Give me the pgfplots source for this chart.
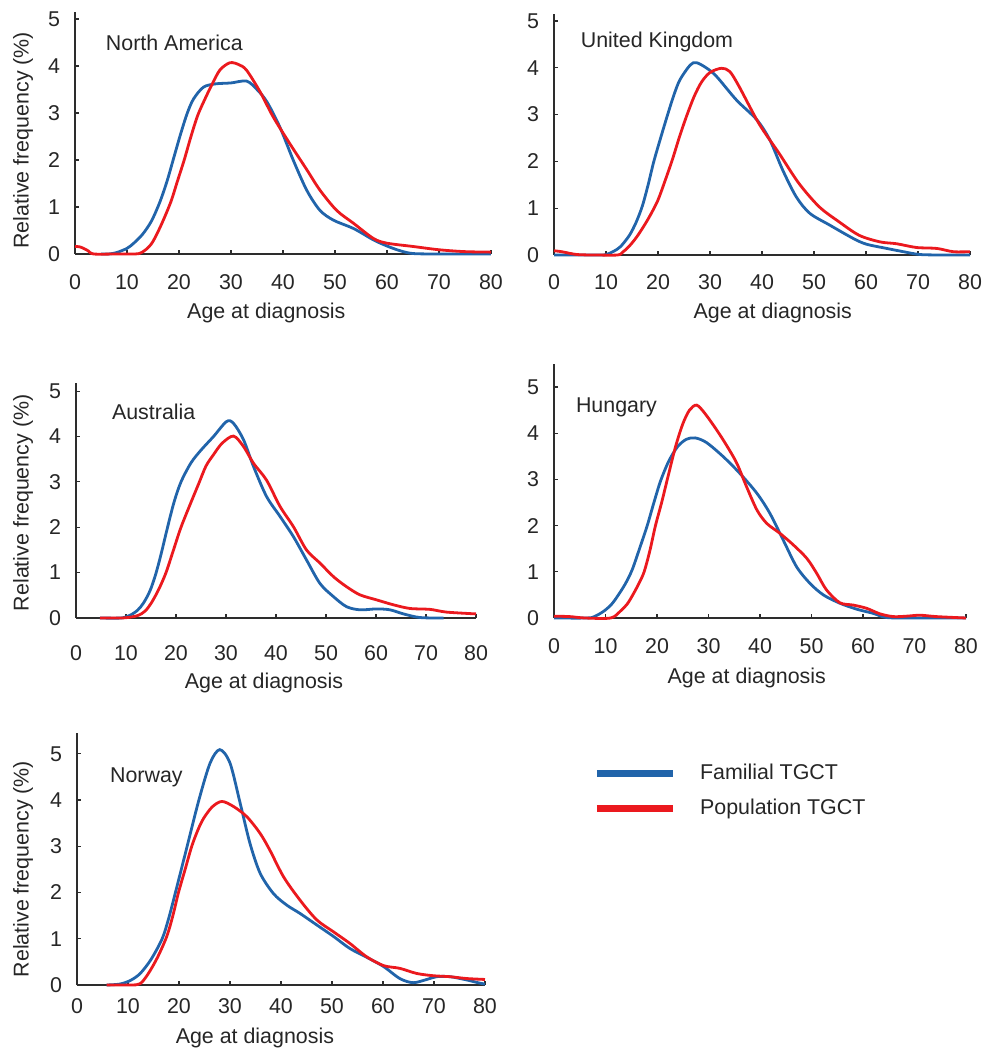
\documentclass[border=0pt]{standalone}
\usepackage{fontspec}
\setmainfont{Liberation Sans}
\usepackage{pgfplots}
\pgfplotsset{compat=1.18}

\definecolor{famblue}{RGB}{33,100,170}
\definecolor{popred}{RGB}{235,25,30}
\definecolor{axgray}{RGB}{45,45,45}

\newcommand{\figfont}{\fontsize{10.7}{13}\selectfont}
\tikzset{ttl/.style={anchor=west, font=\figfont, text=black!85}}

\pgfplotsset{
  panel/.style={
    scale only axis,
    axis lines=left,
    axis line style={-, axgray, line width=0.9pt},
    xmin=0, xmax=80, ymin=0,
    xtick={0,10,...,80}, ytick={0,1,...,5},
    tick align=inside,
    major tick length=2pt,
    tick style={axgray, line width=0.6pt},
    tick label style={font=\figfont, text=black!85},
    label style={font=\figfont, text=black!85},
    /pgf/number format/assume math mode=true,
    yticklabel shift=4pt,
    xlabel={Age at diagnosis},
    clip=false,
  },
  fam/.style={famblue, line width=1.4pt, smooth, no markers},
  pop/.style={popred, line width=1.4pt, smooth, no markers},
}

\begin{document}
\begin{tikzpicture}
\path[use as bounding box] (0,0) rectangle (491.5pt,524.5pt);

% North America
\begin{axis}[panel, at={(37.5pt,397.5pt)}, anchor=south west,
  width=208pt, height=121pt, ymax=5.15,
  xticklabel shift=7pt,
  ylabel={Relative frequency (\%)},
  ylabel style={at={(axis description cs:0,0.47)}, anchor=center, yshift=26pt},
  xlabel style={at={(axis description cs:0.46,0)}, anchor=center, yshift=-29.5pt}]
\addplot[fam] coordinates {
 (5,0) (6.5,0) (8,0.03) (10,0.12) (11.3,0.23) (13,0.42) (14.7,0.7) (16.3,1.1)
 (17.7,1.55) (19,2.05) (20.3,2.55) (21.6,3.0) (22.8,3.3) (24.7,3.55) (27,3.62)
 (30,3.64) (33,3.68) (35,3.5) (36.9,3.24) (39.4,2.7) (42,1.99) (44.6,1.35)
 (47.1,0.93) (49.7,0.72) (53.6,0.54) (57.4,0.3) (60,0.17) (62.5,0.07) (65,0.01)
 (70,0) (80,0)};
\addplot[pop] coordinates {
 (0,0.16) (1,0.15) (2.5,0.07) (3.6,0) (8,0) (11.5,0) (12.6,0.02) (13.7,0.1)
 (14.9,0.25) (16.5,0.6) (18.4,1.1) (19.7,1.55) (21,2.0) (22.3,2.5) (23.6,2.95)
 (25,3.3) (26.4,3.62) (27.9,3.92) (29.8,4.07) (31.5,4.03) (33,3.91) (35.6,3.45)
 (38.1,2.92) (41.3,2.35) (44.6,1.79) (47.1,1.36) (50.3,0.93) (53.6,0.65)
 (57.4,0.33) (60,0.23) (65,0.16) (70,0.09) (75,0.05) (80,0.04)};
\node[ttl] at (axis cs:4.6,4.5) {North America};
\end{axis}

% United Kingdom
\begin{axis}[panel, at={(277pt,397pt)}, anchor=south west,
  width=208pt, height=120.5pt, ymax=5.15,
  xticklabel shift=6.5pt,
  xlabel style={at={(axis description cs:0.526,0)}, anchor=center, yshift=-29pt}]
\addplot[fam] coordinates {
 (0,0) (9,0) (10.3,0.02) (11.5,0.08) (12.8,0.18) (14.5,0.42) (15.8,0.7) (17,1.05)
 (18.1,1.5) (19.2,2.0) (20.5,2.5) (21.8,2.98) (23,3.4) (24.2,3.74) (26.2,4.06)
 (27.4,4.11) (29.4,3.99) (31.3,3.81) (35.1,3.31) (39,2.89) (41.5,2.46) (44,1.81)
 (46.6,1.24) (49.2,0.89) (53,0.64) (57.6,0.35) (60.1,0.23) (64,0.14) (67.2,0.07)
 (70.4,0.01) (75,0) (80,0)};
\addplot[pop] coordinates {
 (0,0.09) (1.5,0.07) (4.4,0.01) (8,0) (12.2,0) (13.2,0.06) (14.4,0.18) (16,0.4)
 (18,0.75) (19.9,1.15) (21.4,1.6) (22.8,2.05) (24.2,2.55) (25.6,3.0) (27,3.4)
 (28.4,3.7) (30,3.9) (32.2,3.99) (33.8,3.92) (35.6,3.6) (39.4,2.81) (43.3,2.17)
 (47.1,1.53) (51,1.03) (54.8,0.71) (58.7,0.42) (62.7,0.28) (65.9,0.24)
 (69.7,0.16) (73.6,0.14) (76.8,0.07) (80,0.07)};
\node[ttl] at (axis cs:3.8,4.55) {United Kingdom};
\end{axis}

% Australia
\begin{axis}[panel, at={(38pt,215.5pt)}, anchor=south west,
  width=200pt, height=117.5pt, ymax=5.18,
  xticklabel shift=10pt,
  ylabel={Relative frequency (\%)},
  ylabel style={at={(axis description cs:0,0.49)}, anchor=center, yshift=26.5pt},
  xlabel style={at={(axis description cs:0.47,0)}, anchor=center, yshift=-32.5pt}]
\addplot[fam] coordinates {
 (4.8,0) (9,0) (10.8,0.06) (12.3,0.17) (13.5,0.33) (14.8,0.6) (15.9,0.95)
 (17,1.4) (18.2,1.95) (19.6,2.55) (21,3.0) (23,3.42) (25,3.7) (27.5,4.0)
 (30.1,4.33) (31.5,4.29) (33.5,3.93) (35.5,3.34) (38.1,2.68) (40.8,2.24)
 (43.5,1.79) (46.1,1.28) (48.8,0.76) (51.5,0.47) (54.1,0.25) (56.8,0.18)
 (60.1,0.2) (62.8,0.18) (65.5,0.09) (68.8,0.01) (73.5,0)};
\addplot[pop] coordinates {
 (4.8,0) (9,0) (11,0.02) (12.5,0.06) (13.8,0.15) (15,0.32) (16.5,0.62) (18,1.0)
 (19.5,1.5) (21,2.0) (23,2.55) (24.5,2.95) (26,3.35) (27.5,3.6) (29.2,3.85)
 (31.5,4.01) (33.5,3.78) (35.5,3.41) (38.1,3.04) (40.8,2.46) (43.5,2.01)
 (46.1,1.5) (48.8,1.21) (51.5,0.91) (54.1,0.69) (56.8,0.51) (60.1,0.4)
 (63.5,0.29) (66.8,0.21) (70.8,0.19) (74.1,0.13) (80,0.09)};
\node[ttl] at (axis cs:5.8,4.54) {Australia};
\end{axis}

% Hungary
\begin{axis}[panel, at={(277pt,215.5pt)}, anchor=south west,
  width=206pt, height=127pt, ymax=5.5,
  xticklabel shift=6.5pt,
  xlabel style={at={(axis description cs:0.468,0)}, anchor=center, yshift=-30pt}]
\addplot[fam] coordinates {
 (0,0) (6.5,0) (8,0.04) (9.7,0.15) (11.2,0.3) (12.5,0.5) (13.9,0.75) (15.2,1.05)
 (16.6,1.5) (18.1,2.0) (19.4,2.5) (20.7,2.97) (22.3,3.4) (24,3.71) (25.7,3.87)
 (27.4,3.9) (29.6,3.8) (32.9,3.49) (36.1,3.13) (39.4,2.7) (41.9,2.27)
 (44.5,1.69) (47.1,1.11) (49.7,0.75) (52.3,0.5) (55.5,0.32) (58.8,0.19)
 (62,0.1) (64.6,0.01) (70,0) (80,0)};
\addplot[pop] coordinates {
 (0,0.04) (3.1,0.03) (6,0) (11,0) (12.9,0.15) (14.2,0.3) (15.3,0.5) (16.5,0.75)
 (17.5,1.0) (18.6,1.45) (19.7,2.0) (20.9,2.5) (22,3.0) (23.6,3.71) (25,4.2)
 (26.3,4.5) (27.7,4.61) (29.3,4.43) (31.6,4.07) (33.5,3.74) (35.5,3.35)
 (37.4,2.84) (39.4,2.34) (41.3,2.05) (43.9,1.83) (46.5,1.58) (49.1,1.29)
 (51,0.97) (52.9,0.61) (55.5,0.33) (58.1,0.28) (60.7,0.21) (63.3,0.09)
 (65.9,0.03) (68.5,0.04) (71.1,0.06) (74.3,0.03) (80,0)};
\node[ttl] at (axis cs:2.9,4.57) {Hungary};
\end{axis}

% Norway
\begin{axis}[panel, at={(38.5pt,32pt)}, anchor=south west,
  width=204pt, height=126pt, ymax=5.45,
  xticklabel shift=3pt,
  ylabel={Relative frequency (\%)},
  ylabel style={at={(axis description cs:0,0.46)}, anchor=center, yshift=27pt},
  xlabel style={at={(axis description cs:0.436,0)}, anchor=center, yshift=-26.5pt},
  legend style={at={(axis description cs:1.265,0.77)}, anchor=west,
    draw=none, fill=none, inner sep=0pt, column sep=10pt, row sep=4pt,
    font=\figfont, text=black!85},
  legend cell align=left,
  legend image code/.code={\draw[#1, line width=3.3pt] (0pt,0pt) -- (38pt,0pt);}]
\addplot[fam] coordinates {
 (5.8,0) (8.4,0.02) (10.5,0.1) (12.4,0.25) (14.5,0.55) (16.7,1.0) (18,1.45)
 (19.3,2.0) (21.6,3.0) (23.9,4.0) (26.1,4.8) (28,5.09) (30,4.8) (32,3.93)
 (33.9,3.07) (35.9,2.42) (38.5,1.98) (41.1,1.73) (43.7,1.55) (47,1.3)
 (50.3,1.05) (53.5,0.79) (56.8,0.6) (60.1,0.4) (63.3,0.14) (65.9,0.05)
 (68.6,0.12) (70.5,0.18) (73.1,0.18) (76.4,0.11) (79,0.04) (80,0.02)};
\addlegendentry{Familial TGCT}
\addplot[pop] coordinates {
 (5.8,0) (10.5,0) (12.4,0.03) (14,0.25) (15.8,0.6) (17.6,1.05) (18.8,1.5)
 (19.9,2.0) (21.2,2.5) (22.5,3.0) (23.7,3.35) (24.8,3.6) (26.5,3.85) (28.4,3.97)
 (30.7,3.86) (33.3,3.64) (35.9,3.28) (37.8,2.92) (40.5,2.34) (43.7,1.84)
 (47,1.41) (50.3,1.15) (53.5,0.9) (56.8,0.61) (60.1,0.42) (63.3,0.36)
 (66.6,0.25) (69.9,0.2) (73.1,0.18) (76.4,0.14) (80,0.12)};
\addlegendentry{Population TGCT}
\node[ttl] at (axis cs:5.1,4.5) {Norway};
\end{axis}
\end{tikzpicture}
\end{document}
